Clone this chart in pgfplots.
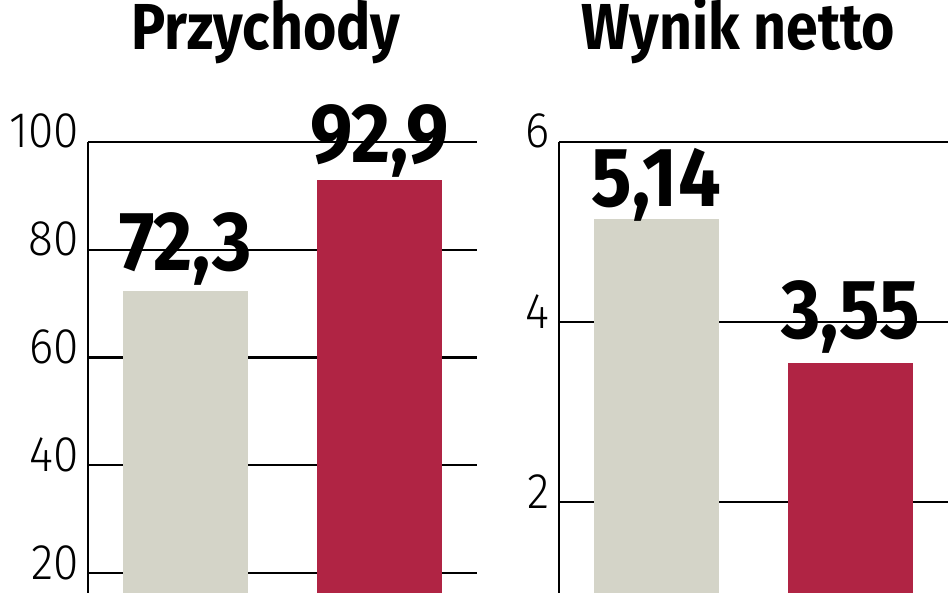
\documentclass[border=0pt]{standalone}
\usepackage{pgfplots}
\pgfplotsset{compat=1.18}
\usepackage{fontspec}
\setmainfont{Fira Sans}
\newfontfamily\titlefont[FakeStretch=0.88]{Fira Sans}
\newfontfamily\valuefont[FakeStretch=0.9]{Fira Sans}
\newfontfamily\tickfont[FakeStretch=0.92]{Fira Sans Light}

\definecolor{barGray}{RGB}{212,212,200}
\definecolor{barRed}{RGB}{176,36,68}

\pgfplotsset{
  panel/.style={
    scale only axis, width=389bp, height=451bp,
    anchor=south west,
    xmin=-0.5, xmax=1.5,
    axis x line=none, axis y line*=left,
    y axis line style={line width=2.2bp},
    ymajorgrids, grid style={black, line width=2.2bp},
    major tick length=0pt,
    xtick=\empty,
    ybar, bar width=125bp,
    clip=false,
    yticklabel style={font=\tickfont\fontsize{50bp}{50bp}\selectfont,
      anchor=base east, inner sep=0pt, xshift=-9bp, yshift=-6bp},
    /pgf/number format/assume math mode=true,
    nodes near coords, point meta=explicit symbolic,
    every node near coord/.append style={
      font=\valuefont\bfseries\fontsize{84bp}{84bp}\selectfont,
      anchor=base, inner sep=0pt, text=black},
  }
}

\pgfplotstableread{
x y label
0 72.3 72,3
}\przGray
\pgfplotstableread{
x y label
1 92.9 92,9
}\przRed
\pgfplotstableread{
x y label
0 5.14 5,14
}\netGray
\pgfplotstableread{
x y label
1 3.55 3,55
}\netRed

\begin{document}
\begin{tikzpicture}
\useasboundingbox (0,0) rectangle (948bp,593bp);
\clip (0,0) rectangle (948bp,593bp);

% Przychody
\begin{axis}[panel, at={(88bp,0bp)},
    ymin=16.29, ymax=100, ytick={20,40,60,80,100}]
\addplot[fill=barGray, draw=none, bar shift=0pt,
    every node near coord/.append style={yshift=21bp}]
    table[x=x, y=y, meta=label] {\przGray};
\addplot[fill=barRed, draw=none, bar shift=0pt,
    every node near coord/.append style={yshift=18bp}]
    table[x=x, y=y, meta=label] {\przRed};
\end{axis}

% Wynik netto
\begin{axis}[panel, at={(559bp,0bp)},
    ymin=0.989, ymax=6, ytick={2,4,6}]
\addplot[fill=barGray, draw=none, bar shift=0pt,
    every node near coord/.append style={yshift=13bp}]
    table[x=x, y=y, meta=label] {\netGray};
\addplot[fill=barRed, draw=none, bar shift=0pt,
    every node near coord/.append style={yshift=24bp}]
    table[x=x, y=y, meta=label] {\netRed};
\end{axis}

\node[font=\titlefont\bfseries\fontsize{65bp}{65bp}\selectfont, anchor=base]
  at (266bp,543bp) {Przychody};
\node[font=\titlefont\bfseries\fontsize{65bp}{65bp}\selectfont, anchor=base]
  at (738bp,543bp) {Wynik netto};
\end{tikzpicture}
\end{document}
